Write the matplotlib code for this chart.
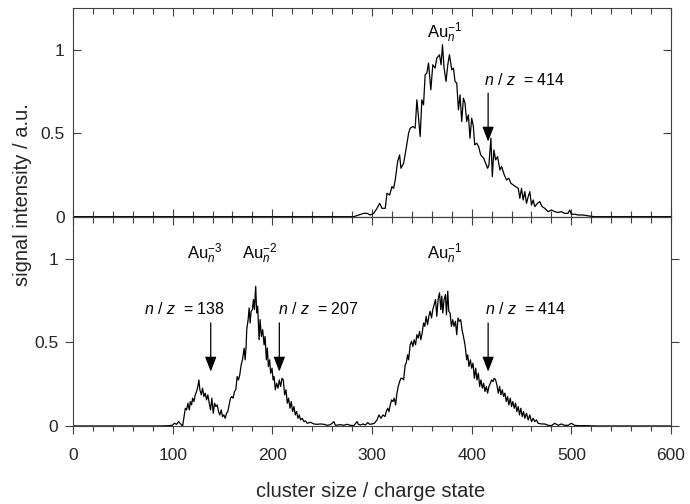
import matplotlib
matplotlib.use('Agg')
import matplotlib.pyplot as plt
from matplotlib.ticker import MultipleLocator

plt.rcParams['font.family'] = ['Liberation Sans', 'DejaVu Sans']
plt.rcParams['mathtext.fontset'] = 'custom'
plt.rcParams['mathtext.rm'] = 'Liberation Sans'
plt.rcParams['mathtext.it'] = 'Liberation Sans:italic'

# top panel: single charge state spectrum
x_top = [0, 281.7, 291.7, 295, 298.3, 301.7, 305, 307.7, 310, 313.3, 315, 317.7, 320, 321.7,
         323.3, 325.7, 327.7, 329, 331.7, 334.3, 336.7, 338.3, 341, 343.3, 345, 346.7,
         348.3, 350, 351.7, 353.3, 355, 356.7, 359, 361, 363.3, 365, 367.7, 369.3, 370.7,
         372.3, 374.3, 376, 377.7, 380, 381.7, 383.3, 385, 386.7, 388.3, 390, 391.7, 393.3,
         395, 396.7, 398.3, 400, 401.7, 403, 405, 407, 409, 412, 414, 416, 417.3, 419.3,
         420.7, 422.3, 424, 426, 428.3, 430, 432.7, 435, 437.3, 439.3, 441.7, 444, 446.7,
         448.3, 450, 451.7, 453.3, 455, 456.7, 458.3, 460, 461.7, 463.3, 466, 468.3, 470.7,
         473.3, 476.7, 480, 483.3, 486.7, 490, 493.3, 496.7, 498.3, 500, 503.3, 506.7,
         511.7, 516.7, 523, 600]
y_top = [0, 0, 0.02, 0.02, 0.01, 0.02, 0.05, 0.08, 0.05, 0.05, 0.14, 0.13, 0.18, 0.17,
         0.22, 0.33, 0.37, 0.29, 0.32, 0.41, 0.50, 0.53, 0.54, 0.53, 0.70, 0.59,
         0.48, 0.70, 0.67, 0.85, 0.86, 0.92, 0.76, 0.91, 0.89, 0.95, 0.97, 0.91, 1.03,
         0.89, 0.81, 0.91, 0.97, 0.88, 0.89, 0.81, 0.80, 0.64, 0.73, 0.57, 0.71, 0.68,
         0.57, 0.61, 0.47, 0.59, 0.54, 0.43, 0.44, 0.42, 0.37, 0.35, 0.32, 0.29, 0.31, 0.47,
         0.24, 0.40, 0.34, 0.36, 0.28, 0.30, 0.25, 0.22, 0.23, 0.20, 0.19, 0.18, 0.17,
         0.11, 0.17, 0.10, 0.15, 0.08, 0.12, 0.15, 0.07, 0.10, 0.06, 0.08, 0.09, 0.06,
         0.05, 0.03, 0.04, 0.03, 0.025, 0.03, 0.02, 0.02, 0.04, 0.015, 0.015, 0.01,
         0.01, 0.005, 0, 0]

# bottom panel: multiply charged clusters
x_bot = [0, 86.7, 96.7, 100, 101.7, 104, 106, 108.3, 110, 111.7, 112.7, 114, 115.3, 116.7,
         117.7, 119, 120, 121.3, 122.7, 124, 125.3, 126.3, 127.3, 128.7, 130, 131.3, 132.7,
         134, 135.3, 136.7, 138, 139.3, 140.7, 142, 143.3, 144.7, 146, 147.3, 148.7, 150,
         151.3, 152.7, 154, 155.3, 156.7, 158, 159.3, 160.7, 162, 163.3, 164.7, 166, 167.3,
         168.7, 170, 171.7, 172.7, 173.7, 174.3, 175.7, 176.7, 177.7, 178.7, 180, 181, 182,
         183.3, 184.3, 185.3, 186.7, 187.7, 189, 190.3, 191.7, 192.7, 194, 195, 196, 197.3,
         198.3, 199.7, 200.7, 201.7, 203, 204.3, 205.7, 207, 208.3, 209.7, 211, 212.3, 213.7,
         215, 216.3, 217.7, 219, 220.3, 221.7, 223, 224.3, 225.7, 227, 228.3, 230, 231.7,
         233.3, 235, 238.3, 241.7, 245, 248.3, 251.7, 255, 258.3, 261.7, 263.3, 268.3,
         271.7, 275, 278.3, 281.7, 285, 286.3, 288.3, 291, 293.3, 295.7, 297.7, 300, 302.3,
         305, 307, 309, 311, 313, 314.3, 315.7, 317, 318.3, 319.7, 321, 322.3, 323.7, 325,
         326.3, 327.7, 329, 330.3, 331.7, 333.3, 334.3, 335.7, 336.7, 338.3, 339.7, 341,
         342.3, 343.7, 345, 346.3, 347.7, 349, 350.3, 351.7, 353, 354.3, 355.7, 357, 358.3,
         359.7, 361, 362.3, 363.7, 365, 366.3, 367.7, 369, 370, 371, 372.3, 373.7, 374.7,
         376, 377, 378.3, 379.7, 381, 382.3, 383.7, 385, 386.3, 387.7, 389, 390.3, 391.7,
         393.3, 395, 396, 397.3, 398.7, 400, 401.3, 402.7, 404, 405.3, 406.7, 408, 409.3,
         410.7, 412, 413.3, 414.7, 416, 417.3, 418.7, 420, 421.3, 422.7, 424, 425.3, 426.7,
         428, 429.3, 430.7, 432, 433.3, 434.7, 436, 437.3, 438.7, 440, 441.3, 442.7, 444,
         445.3, 446.7, 448, 449.3, 450.7, 452, 453.3, 455, 456.7, 458.3, 460, 461.7, 463.3,
         465, 466.7, 470, 473.3, 476.7, 480, 483.3, 486.7, 490, 493.3, 496.7, 500, 503.3,
         506.7, 513.3, 526.7, 600]
y_bot = [0, 0, 0.002, 0.005, 0.016, 0.01, 0.026, 0.01, 0.0, 0.066, 0.106, 0.096, 0.136, 0.096,
         0.146, 0.126, 0.166, 0.146, 0.186, 0.206, 0.236, 0.275, 0.216, 0.186, 0.226, 0.176, 0.196,
         0.156, 0.186, 0.136, 0.096, 0.166, 0.076, 0.136, 0.116, 0.126, 0.086, 0.066, 0.096, 0.056,
         0.066, 0.046, 0.076, 0.086, 0.126, 0.166, 0.176, 0.166, 0.206, 0.216, 0.295, 0.275, 0.305,
         0.365, 0.395, 0.465, 0.395, 0.475, 0.575, 0.635, 0.705, 0.615, 0.685, 0.695, 0.755, 0.695,
         0.834, 0.675, 0.715, 0.515, 0.635, 0.535, 0.575, 0.485, 0.535, 0.395, 0.465, 0.355, 0.395,
         0.315, 0.345, 0.275, 0.295, 0.216, 0.255, 0.226, 0.275, 0.236, 0.285, 0.275, 0.186, 0.216,
         0.136, 0.166, 0.106, 0.146, 0.086, 0.116, 0.066, 0.086, 0.046, 0.066, 0.036, 0.046, 0.026,
         0.03, 0.016, 0.022, 0.012, 0.01, 0.012, 0.01, 0.004, 0.008, 0.026, 0.004, 0.008,
         0.004, 0.01, 0.004, 0.002, 0.026, 0.01, 0.006, 0.012, 0.006, 0.02, 0.01, 0.012, 0.016,
         0.036, 0.066, 0.046, 0.066, 0.056, 0.086, 0.106, 0.086, 0.126, 0.156, 0.146, 0.166, 0.126, 0.196,
         0.236, 0.265, 0.285, 0.285, 0.275, 0.365, 0.375, 0.425, 0.395, 0.485, 0.505, 0.475,
         0.515, 0.485, 0.545, 0.525, 0.565, 0.515, 0.555, 0.615, 0.595, 0.655, 0.605, 0.655, 0.685,
         0.645, 0.695, 0.725, 0.755, 0.655, 0.755, 0.795, 0.695, 0.775, 0.675, 0.755, 0.785, 0.665,
         0.805, 0.685, 0.675, 0.595, 0.635, 0.595, 0.625, 0.545, 0.645, 0.625, 0.635, 0.575, 0.535,
         0.485, 0.395, 0.425, 0.355, 0.395, 0.345, 0.375, 0.285, 0.345, 0.275, 0.315, 0.236, 0.275,
         0.226, 0.255, 0.206, 0.236, 0.196, 0.236, 0.255, 0.275, 0.265, 0.285, 0.275, 0.245, 0.196,
         0.236, 0.186, 0.216, 0.176, 0.196, 0.146, 0.176, 0.126, 0.166, 0.116, 0.146, 0.106, 0.136,
         0.086, 0.116, 0.066, 0.106, 0.056, 0.086, 0.046, 0.076, 0.036, 0.066, 0.026, 0.046, 0.026,
         0.036, 0.016, 0.012, 0.012, 0.004, 0.002, 0.016, 0.004, 0.012, 0.004, 0.004, 0.016, 0.004,
         0.002, 0.002, 0, 0]

# labels: (text, x, y) and arrows: (x, tail y, tip y)
top_labels = [(r'Au$_{n}^{-1}$', 373, 1.072)]
top_nz = [(r'$n$ / $z$  = 414', 412.4, 0.786)]
top_arrows = [(416.5, 0.74, 0.45)]

bot_labels = [(r'Au$_{n}^{-3}$', 132.4, 0.998),
              (r'Au$_{n}^{-2}$', 187.6, 0.998),
              (r'Au$_{n}^{-1}$', 372.7, 0.998)]
bot_nz = [(r'$n$ / $z$  = 138', 71.2, 0.67),
          (r'$n$ / $z$  = 207', 205.7, 0.67),
          (r'$n$ / $z$  = 414', 413.4, 0.67)]
bot_arrows = [(138.2, 0.615, 0.325), (207, 0.615, 0.325), (416.5, 0.615, 0.325)]

spine_col = '#404040'
text_col = '#262626'

fig = plt.figure(figsize=(6.9, 5.04), dpi=100)
ax1 = fig.add_axes([0.1058, 0.5701, 0.8667, 0.4140])
ax2 = fig.add_axes([0.1058, 0.1548, 0.8667, 0.4153], sharex=ax1)

panels = [(ax1, x_top, y_top, top_labels, top_nz, top_arrows),
          (ax2, x_bot, y_bot, bot_labels, bot_nz, bot_arrows)]

for ax, xs, ys, labels, nz, arrows in panels:
    ax.plot(xs, ys, color='black', lw=0.9)
    ax.set_xlim(0, 600)
    ax.set_ylim(0, 1.25)
    ax.set_yticks([0, 0.5, 1])
    ax.set_yticklabels(['0', '0.5', '1'])
    ax.xaxis.set_major_locator(MultipleLocator(100))
    ax.xaxis.set_minor_locator(MultipleLocator(20))
    for sp in ax.spines.values():
        sp.set_linewidth(0.8)
        sp.set_color(spine_col)
    for txt, lx, ly in labels:
        ax.text(lx, ly, txt, ha='center', va='baseline', fontsize=12, color='black')
    for txt, lx, ly in nz:
        ax.text(lx, ly, txt, ha='left', va='baseline', fontsize=11.5, color='black')
    for ax_x, tail, tip in arrows:
        ax.annotate('', xy=(ax_x, tip), xytext=(ax_x, tail),
                    arrowprops=dict(arrowstyle='-|>,head_length=0.9,head_width=0.35',
                                    color='black', lw=0.9, shrinkA=0, shrinkB=0))

# top panel: ticks inside on all sides, no x labels
ax1.tick_params(which='both', direction='in', top=True, right=True, labelbottom=False,
                labelsize=12.5, width=0.8, color=spine_col, labelcolor=text_col, pad=6)
ax1.tick_params(which='major', length=6)
ax1.tick_params(which='minor', length=4)

# bottom panel: ticks outside on left/bottom/right
ax2.tick_params(which='both', direction='out', top=False, right=True,
                labelsize=12.5, width=0.8, color=spine_col, labelcolor=text_col)
ax2.tick_params(axis='x', which='major', length=6, pad=10)
ax2.tick_params(axis='x', which='minor', length=3.5)
ax2.tick_params(axis='y', which='major', length=6, pad=4.5)
ax2.set_xticks([0, 100, 200, 300, 400, 500, 600])

# ticks hanging down from the shared border into the bottom panel
sec = ax2.secondary_xaxis('top')
sec.xaxis.set_major_locator(MultipleLocator(100))
sec.xaxis.set_minor_locator(MultipleLocator(20))
sec.tick_params(which='both', direction='in', labeltop=False, width=0.8, color=spine_col)
sec.tick_params(which='major', length=6)
sec.tick_params(which='minor', length=4)
sec.spines['top'].set_color(spine_col)
sec.spines['top'].set_linewidth(0.8)

fig.text(0.537, 0.014, 'cluster size / charge state', ha='center', va='baseline',
         fontsize=14.5, color=text_col)
fig.text(0.032, 0.613, 'signal intensity / a.u.', rotation=90, ha='center', va='center',
         fontsize=14.5, color=text_col)

fig.savefig('out.png', dpi=100)
